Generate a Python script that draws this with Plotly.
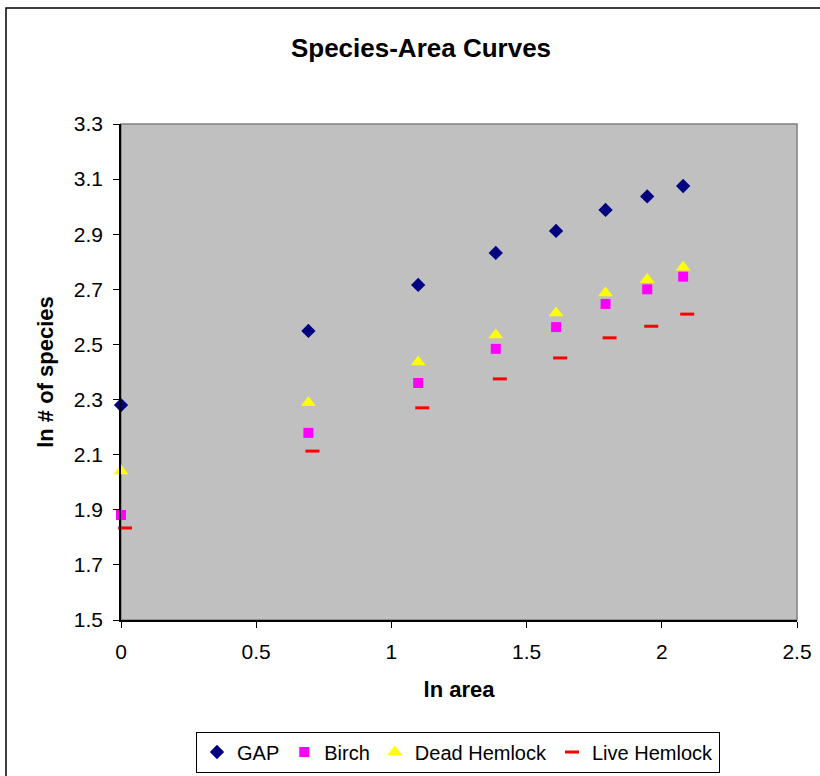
import numpy as np
import plotly.graph_objects as go

ln_area = [0.0, 0.693, 1.099, 1.386, 1.609, 1.792, 1.946, 2.079]
gap = [2.280, 2.549, 2.716, 2.832, 2.912, 2.988, 3.037, 3.075]
birch = [1.881, 2.179, 2.360, 2.484, 2.563, 2.647, 2.700, 2.746]
dead_hemlock = [2.041, 2.288, 2.436, 2.534, 2.614, 2.687, 2.736, 2.780]
live_hemlock = [1.834, 2.113, 2.270, 2.375, 2.451, 2.524, 2.566, 2.610]
live_x = [0.015, 0.708, 1.114, 1.401, 1.624, 1.807, 1.961, 2.094]

FONT = "Liberation Sans, Arial, sans-serif"

fig = go.Figure()
fig.add_trace(go.Scatter(x=ln_area, y=gap, mode="markers", name="GAP", cliponaxis=False,
                         marker=dict(symbol="diamond", size=11, color="#000080")))
fig.add_trace(go.Scatter(x=ln_area, y=birch, mode="markers", name="Birch", cliponaxis=False,
                         marker=dict(symbol="square", size=10, color="#FF00FF")))
fig.add_trace(go.Scatter(x=ln_area, y=dead_hemlock, mode="markers", name="Dead Hemlock",
                         cliponaxis=False,
                         marker=dict(symbol="triangle-up", size=13, color="#FFFF00")))
fig.add_trace(go.Scatter(x=live_x, y=live_hemlock, mode="markers", name="Live Hemlock",
                         cliponaxis=False,
                         marker=dict(symbol="line-ew", size=10, color="#FF0000",
                                     line=dict(color="#FF0000", width=3))))

L, R, T, B = 121, 797, 124, 620
W, H = 820, 776
pw, ph = R - L, B - T

def px(x):
    return (x - L) / pw

def py(y):
    return (B - y) / ph

fig.update_layout(
    width=W, height=H,
    margin=dict(l=L, r=W - R, t=T, b=H - B, autoexpand=False),
    paper_bgcolor="white",
    plot_bgcolor="#C0C0C0",
    font=dict(family=FONT, size=21, color="black"),
    title=dict(text="<b>Species-Area Curves</b>", x=421 / W, xanchor="center",
               y=1 - 48 / H, yanchor="middle", font=dict(size=26, family=FONT)),
    showlegend=True,
    legend=dict(orientation="h", x=px(458), xanchor="center", y=py(752), yanchor="middle",
                bgcolor="white", bordercolor="black", borderwidth=1,
                font=dict(size=20, family=FONT), itemwidth=30, tracegroupgap=0),
    shapes=[
        dict(type="rect", xref="paper", yref="paper",
             x0=px(6), x1=px(840), y0=py(800), y1=py(8),
             line=dict(color="black", width=1.5), fillcolor="rgba(0,0,0,0)", layer="below"),
        dict(type="rect", xref="paper", yref="paper", x0=0, x1=1, y0=0, y1=1,
             line=dict(color="#808080", width=1.5), fillcolor="rgba(0,0,0,0)", layer="below"),
    ],
)
fig.update_xaxes(range=[0, 2.5], tickvals=[0, 0.5, 1, 1.5, 2, 2.5],
                 ticktext=["0", "0.5", "1", "1.5", "2", "2.5"], automargin=False,
                 showgrid=False, zeroline=False, showline=True, linecolor="black", linewidth=1.5,
                 ticks="outside", ticklen=6, tickcolor="black", ticklabelstandoff=6,
                 title=dict(text="<b>ln area</b>", font=dict(size=22, family=FONT), standoff=20))
fig.update_yaxes(range=[1.5, 3.3], tickvals=[1.5, 1.7, 1.9, 2.1, 2.3, 2.5, 2.7, 2.9, 3.1, 3.3],
                 ticktext=["1.5", "1.7", "1.9", "2.1", "2.3", "2.5", "2.7", "2.9", "3.1", "3.3"],
                 automargin=False,
                 showgrid=False, zeroline=False, showline=True, linecolor="black", linewidth=1.5,
                 ticks="outside", ticklen=6, tickcolor="black", ticklabelstandoff=6,
                 title=dict(text="<b>ln # of species</b>", font=dict(size=22, family=FONT), standoff=14))

fig.write_html("out.html")
